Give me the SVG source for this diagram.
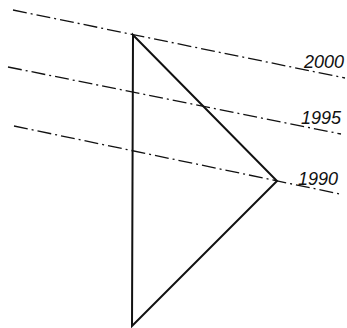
<svg xmlns="http://www.w3.org/2000/svg" width="347" height="328" viewBox="0 0 347 328">
<style>
.axis{fill:none;stroke:#111;stroke-width:1.3;stroke-dasharray:14 4 2 4}
.tri{fill:none;stroke:#111;stroke-width:2;stroke-linejoin:miter}
.lbl{font-family:"Liberation Sans",Arial,sans-serif;font-size:18px;font-style:italic;fill:#111}
</style>
<rect width="347" height="328" fill="#fff"/>
<g id="connectors">
<line class="axis" x1="13" y1="10" x2="345" y2="78"/>
<line class="axis" x1="8" y1="67" x2="341" y2="134"/>
<line class="axis" x1="14" y1="126" x2="340" y2="194"/>
</g>
<g id="triangle">
<polygon class="tri" points="133,35 277,181 132,326"/>
</g>
<g id="label2000"><text class="lbl" x="304" y="68">2000</text></g>
<g id="label1995"><text class="lbl" x="301" y="124">1995</text></g>
<g id="label1990"><text class="lbl" x="298" y="185">1990</text></g>
</svg>
